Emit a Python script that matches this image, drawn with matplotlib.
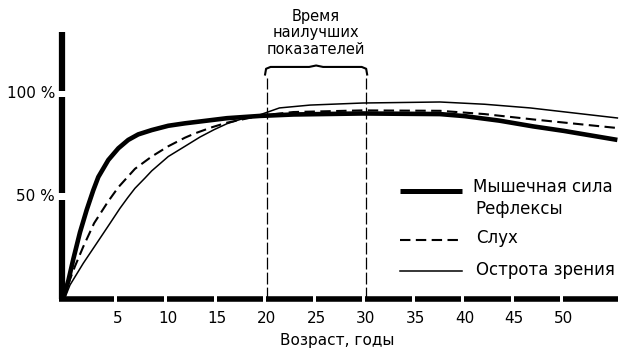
import numpy as np
import matplotlib.pyplot as plt

plt.rcParams['font.family'] = ['DejaVu Sans']

# Мышечная сила / рефлексы (толстая линия)
age_muscle = [-0.55, 0.0, 0.5, 1.17, 1.85, 2.51, 3.02, 4.03, 5.04, 6.04, 7.05, 8.41, 10.08, 11.77, 13.3, 16.0,
              19.3, 22.7, 29.7, 37.5, 40.0, 43.5, 46.9, 50.0, 55.4]
val_muscle = [0, 9.0, 19.5, 32.5, 43.5, 53.0, 59.5, 67.8, 73.5, 77.6, 80.3, 82.4, 84.5, 85.7, 86.6, 88.2,
              89.3, 90.0, 90.5, 90.2, 89.2, 87.0, 84.2, 82.0, 77.6]

# Слух (штриховая)
age_hearing = [-0.6, 0.67, 1.5, 2.6, 4.0, 5.04, 6.72, 8.41, 10.08, 11.77, 12.78, 14.5, 16.0, 19.3, 22.7,
               29.7, 37.5, 42.0, 46.9, 55.4]
val_hearing = [0, 16.0, 25.5, 37.0, 47.5, 54.5, 63.5, 69.5, 74.5, 78.7, 80.8, 83.8, 86.0, 89.4, 91.2,
               92.0, 91.8, 90.2, 87.6, 83.4]

# Острота зрения (тонкая)
age_vision = [-0.4, 0.16, 1.5, 2.86, 4.2, 5.2, 6.0, 6.72, 7.73, 8.41, 10.08, 11.77, 13.28, 14.7, 16.0, 18.0,
              19.3, 21.3, 24.4, 29.7, 37.5, 42.0, 46.6, 55.4]
val_vision = [0, 6.8, 17.4, 27.2, 36.9, 44.2, 49.5, 54.0, 59.0, 62.5, 69.5, 74.5, 79.0, 82.6, 85.5, 88.6,
              89.8, 93.2, 94.6, 95.6, 96.1, 95.0, 93.2, 88.3]

x_ticks = [5, 10, 15, 20, 25, 30, 35, 40, 45, 50]
y_ticks = [50, 100]
best_start, best_end = 20, 30

fig = plt.figure(figsize=(6.25, 3.53), dpi=100)
ax = fig.add_axes([0, 0, 1, 1])
ax.set_xlim(-6.90, 56.17)
ax.set_ylim(-26.34, 145.85)
ax.axis('off')

x0 = -0.6  # положение оси Y

# ось Y с разрывами у 50 и 100
y_edges = [0, 48.3, 51.7, 98.3, 101.7, 130.2]
for i in range(0, len(y_edges), 2):
    ax.plot([x0, x0], [y_edges[i], y_edges[i + 1]], color='black', lw=4.5, solid_capstyle='butt')

# ось X — толстый прерывистый отрезок
x_edges = [x0 - 0.3]
for t in x_ticks:
    x_edges += [t - 0.35, t - 0.05]
x_edges.append(55.5)
for i in range(0, len(x_edges), 2):
    ax.plot([x_edges[i], x_edges[i + 1]], [0, 0], color='black', lw=4.0, solid_capstyle='butt')

# кривые
ax.plot(age_muscle, val_muscle, color='black', lw=3.3, solid_joinstyle='round', solid_capstyle='butt')
ax.plot(age_hearing, val_hearing, color='black', lw=1.5, dashes=(5, 2.6))
ax.plot(age_vision, val_vision, color='black', lw=1.1)

# время наилучших показателей
for xv in (best_start, best_end):
    ax.plot([xv, xv], [0, 108], color='black', lw=0.9, dashes=(9.5, 2.5))
mid = (best_start + best_end) / 2
bx = [best_start - 0.15, best_start - 0.05, best_start + 0.4, mid - 0.7, mid, mid + 0.7,
      best_end - 0.4, best_end + 0.05, best_end + 0.15]
by = [109.5, 112.3, 113.2, 113.2, 113.9, 113.2, 113.2, 112.3, 109.5]
ax.plot(bx, by, color='black', lw=1.5, solid_joinstyle='round')
ax.text(mid, 129.8, 'Время\nнаилучших\nпоказателей',
        ha='center', va='center', fontsize=10.5, linespacing=1.1)

# подписи осей
for v in y_ticks:
    ax.text(-1.35, v, f'{v} %', ha='right', va='center', fontsize=11)
for t in x_ticks:
    ax.text(t, -9.3, str(t), ha='center', va='center', fontsize=11)
ax.text(27.1, -20, 'Возраст, годы', ha='center', va='center', fontsize=11)

# легенда
lx = [33.46, 39.72]
ax.plot(lx, [52.7, 52.7], color='black', lw=3.6, solid_capstyle='butt')
ax.plot(lx, [28.8, 28.8], color='black', lw=1.5, dashes=(5, 2.6))
ax.plot(lx, [13.7, 13.7], color='black', lw=1.1)
ax.text(40.8, 54.6, 'Мышечная сила', ha='left', va='center', fontsize=12)
ax.text(41.1, 43.9, 'Рефлексы', ha='left', va='center', fontsize=12)
ax.text(41.1, 29.8, 'Слух', ha='left', va='center', fontsize=12)
ax.text(41.1, 14.1, 'Острота зрения', ha='left', va='center', fontsize=12)

fig.savefig('out.png', dpi=100)
